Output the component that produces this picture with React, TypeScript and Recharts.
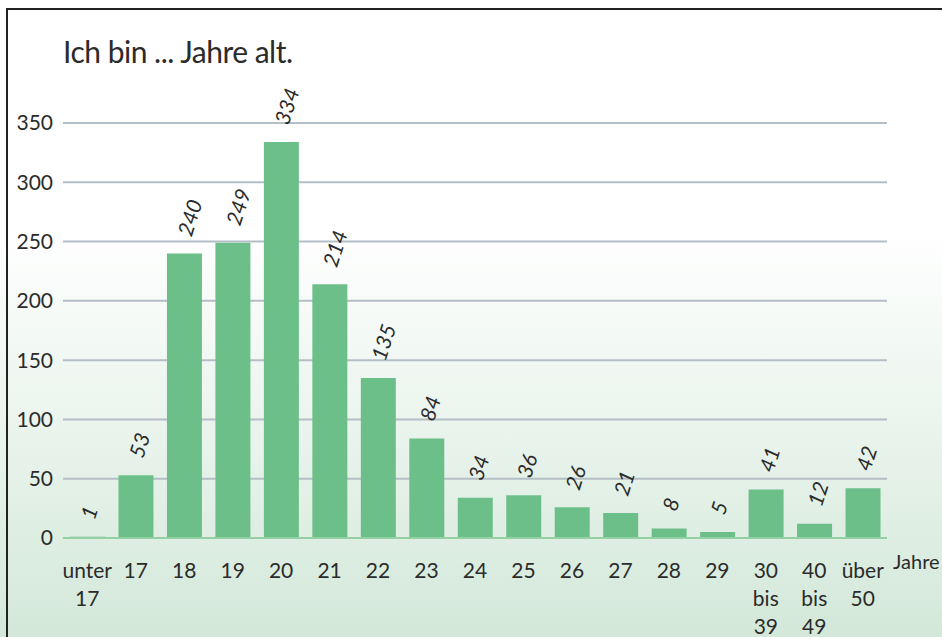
import { BarChart, Bar, XAxis, YAxis, CartesianGrid, LabelList, ReferenceLine } from 'recharts';

const ageGroups = ['unter 17', '17', '18', '19', '20', '21', '22', '23', '24', '25', '26', '27', '28', '29', '30 bis 39', '40 bis 49', 'über 50'];
const counts = [1, 53, 240, 249, 334, 214, 135, 84, 34, 36, 26, 21, 8, 5, 41, 12, 42];
const yTicks = [0, 50, 100, 150, 200, 250, 300, 350];

const FONT = 'Lato, "Open Sans", sans-serif';
const TEXT = '#2b2b2b';

const data = ageGroups.map((g, i) => ({ group: g, count: counts[i] }));

// multi-line category labels: one word per line
function AgeTick({ x, y, payload }: any) {
  const lines = String(payload.value).split(' ');
  return (
    <text x={x} y={y} textAnchor="middle" fontSize={21} fontFamily={FONT} fill={TEXT}>
      {lines.map((l, i) => (
        <tspan key={i} x={x} dy={i === 0 ? 32 : 28}>{l}</tspan>
      ))}
    </text>
  );
}

function ValueLabel({ x, y, width, value }: any) {
  const cx = x + width / 2 + 7;
  const cy = y - 16;
  return (
    <text x={cx} y={cy} transform={`rotate(-72 ${cx} ${cy})`} textAnchor="start"
      fontSize={21} fontStyle="italic" fontFamily={FONT} fill={TEXT}>
      {value}
    </text>
  );
}

export default function App() {
  return (
    <div style={{
      position: 'absolute', left: 0, top: 0, width: 942, height: 637, overflow: 'hidden',
      background: 'linear-gradient(180deg, #ffffff 0%, #ffffff 36%, #e8f3eb 70%, #d3e8d9 100%)'
    }}>
      {/* frame */}
      <div style={{
        position: 'absolute', left: 6, top: 8, width: 940, height: 640,
        borderLeft: '2px solid #222', borderTop: '2px solid #222'
      }} />
      <div style={{
        position: 'absolute', left: 63, top: 33, fontFamily: FONT, fontSize: 30, color: TEXT,
        letterSpacing: -0.5
      }}>
        Ich bin ... Jahre alt.
      </div>
      <div style={{
        position: 'absolute', left: 893, top: 549, fontFamily: FONT, fontSize: 20, color: TEXT
      }}>
        Jahre
      </div>
      <BarChart width={942} height={637} data={data}
        margin={{ top: 123, right: 55, left: 0, bottom: 9 }} barSize={35}
        style={{ position: 'absolute', left: 0, top: 0 }}>
        <CartesianGrid vertical={false} stroke="#b4bec6" strokeWidth={2} />
        <XAxis dataKey="group" interval={0} height={90} tick={<AgeTick />}
          axisLine={false} tickLine={false} />
        <YAxis domain={[0, 350]} ticks={yTicks} width={63} axisLine={false} tickLine={false}
          tickSize={0} tickMargin={10}
          tick={{ fontSize: 21, fontFamily: FONT, fill: TEXT }} />
        <Bar dataKey="count" fill="#6dbf8a" isAnimationActive={false}>
          <LabelList dataKey="count" content={<ValueLabel />} />
        </Bar>
        <ReferenceLine y={0} stroke="#93d0a4" strokeWidth={2} />
      </BarChart>
    </div>
  );
}
